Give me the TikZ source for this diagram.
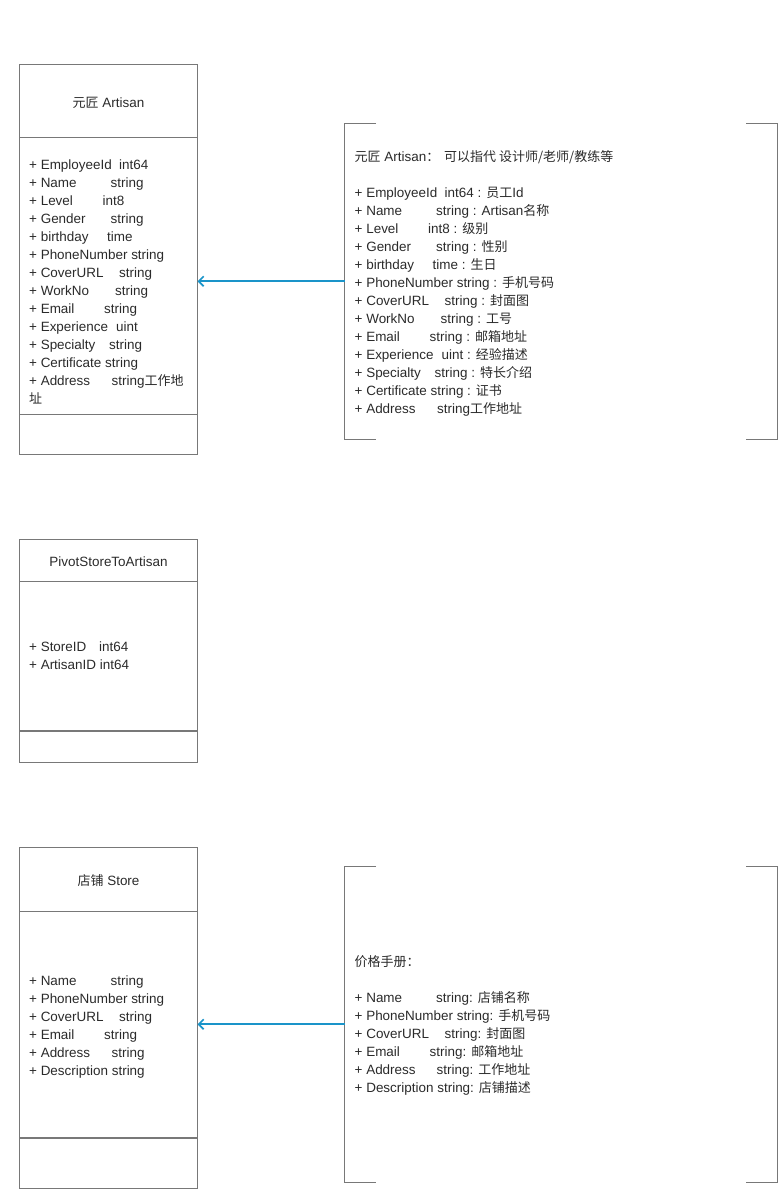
\documentclass[tikz,border=0pt]{standalone}
\usepackage{fontspec}
\setmainfont{Liberation Sans}[Scale=1.035]
\newfontfamily\cjk{Noto Sans CJK SC}
\usetikzlibrary{arrows.meta}
\definecolor{linegray}{HTML}{787878}
\definecolor{arrowblue}{HTML}{1A94C9}
\definecolor{txt}{HTML}{2A2A2A}
\newcommand\attr[2]{\makebox[#1][l]{#2}}
\begin{document}
\begin{tikzpicture}[x=1pt,y=-1pt,
  box/.style={draw=linegray, line width=1pt, anchor=north west, inner sep=0pt, outer sep=0pt, minimum width=178pt},
  notearea/.style={anchor=north west, inner sep=0pt, outer sep=0pt, minimum width=432.5pt, minimum height=315.5pt},
  sep/.style={draw=linegray, line width=1pt},
  thicksep/.style={draw=linegray, line width=2pt},
  bracket/.style={draw=linegray, line width=1pt},
  lbl/.style={anchor=base west, inner sep=0pt, yshift=-1pt, text=txt, font=\fontsize{13}{18}\selectfont},
  ttl/.style={anchor=base, inner sep=0pt, yshift=-1pt, text=txt, font=\fontsize{13}{18}\selectfont},
  link/.style={draw=arrowblue, line width=1.7pt, -{Straight Barb[length=5pt,width=10pt]}}
]
\useasboundingbox (0,0) rectangle (778,1189);

% ---------- Artisan class ----------
\node[box, minimum height=389.5pt] (artisan) at (19.5,64.5) {};
\draw[sep] (artisan.west |- 0,137.5) -- (artisan.east |- 0,137.5);
\draw[sep] (artisan.west |- 0,414.5) -- (artisan.east |- 0,414.5);
\node[ttl] (artT) at (108.5,106.5) {{\cjk 元匠} Artisan};
\node[lbl] (a1)  at (29,168.5) {\attr{90pt}{+ EmployeeId}int64};
\node[lbl] (a2)  at (29,186.5) {\attr{81.5pt}{+ Name}string};
\node[lbl] (a3)  at (29,204.5) {\attr{73.5pt}{+ Level}int8};
\node[lbl] (a4)  at (29,222.5) {\attr{81.5pt}{+ Gender}string};
\node[lbl] (a5)  at (29,240.5) {\attr{78pt}{+ birthday}time};
\node[lbl] (a6)  at (29,258.5) {+ PhoneNumber string};
\node[lbl] (a7)  at (29,276.5) {\attr{90pt}{+ CoverURL}string};
\node[lbl] (a8)  at (29,294.5) {\attr{86pt}{+ WorkNo}string};
\node[lbl] (a9)  at (29,312.5) {\attr{75pt}{+ Email}string};
\node[lbl] (a10) at (29,330.5) {\attr{87pt}{+ Experience}uint};
\node[lbl] (a11) at (29,348.5) {\attr{80pt}{+ Specialty}string};
\node[lbl] (a12) at (29,366.5) {+ Certificate string};
\node[lbl] (a13) at (29,384.5) {\attr{82.5pt}{+ Address}string{\cjk 工作地}};
\node[lbl] (a14) at (29,402.5) {{\cjk 址}};

% ---------- Artisan note ----------
\node[notearea] (note1) at (344.5,123.5) {};
\draw[bracket] ([xshift=31.5pt]note1.north west) -- (note1.north west) -- (note1.south west) -- ([xshift=31.5pt]note1.south west);
\draw[bracket] ([xshift=-31pt]note1.north east) -- (note1.north east) -- (note1.south east) -- ([xshift=-31pt]note1.south east);
\node[lbl] (n0)  at (354.5,160.5) {\attr{89.5pt}{{\cjk 元匠} Artisan{\cjk ：}}{\cjk 可以指代 设计师/老师/教练等}};
\node[lbl] (n1)  at (354.5,196.5) {\attr{90pt}{+ EmployeeId}int64 : {\cjk 员工}Id};
\node[lbl] (n2)  at (354.5,214.5) {\attr{81.5pt}{+ Name}string : Artisan{\cjk 名称}};
\node[lbl] (n3)  at (354.5,232.5) {\attr{73.5pt}{+ Level}int8 : {\cjk 级别}};
\node[lbl] (n4)  at (354.5,250.5) {\attr{81.5pt}{+ Gender}string : {\cjk 性别}};
\node[lbl] (n5)  at (354.5,268.5) {\attr{78pt}{+ birthday}time : {\cjk 生日}};
\node[lbl] (n6)  at (354.5,286.5) {+ PhoneNumber string : {\cjk 手机号码}};
\node[lbl] (n7)  at (354.5,304.5) {\attr{90pt}{+ CoverURL}string : {\cjk 封面图}};
\node[lbl] (n8)  at (354.5,322.5) {\attr{86pt}{+ WorkNo}string : {\cjk 工号}};
\node[lbl] (n9)  at (354.5,340.5) {\attr{75pt}{+ Email}string : {\cjk 邮箱地址}};
\node[lbl] (n10) at (354.5,358.5) {\attr{87pt}{+ Experience}uint : {\cjk 经验描述}};
\node[lbl] (n11) at (354.5,376.5) {\attr{80pt}{+ Specialty}string : {\cjk 特长介绍}};
\node[lbl] (n12) at (354.5,394.5) {+ Certificate string : {\cjk 证书}};
\node[lbl] (n13) at (354.5,412.5) {\attr{82.5pt}{+ Address}string{\cjk 工作地址}};

\draw[link] (note1.west) -- (note1.west -| artisan.east);

% ---------- Pivot class ----------
\node[box, minimum height=222.5pt] (pivot) at (19.5,539.5) {};
\draw[sep] (pivot.west |- 0,581.5) -- (pivot.east |- 0,581.5);
\draw[thicksep] (pivot.west |- 0,730.5) -- (pivot.east |- 0,730.5);
\node[ttl] (pivT) at (108.5,565.5) {PivotStoreToArtisan};
\node[lbl] (p1) at (29,650.5) {\attr{70pt}{+ StoreID}int64};
\node[lbl] (p2) at (29,668.5) {+ ArtisanID int64};

% ---------- Store class ----------
\node[box, minimum height=340.5pt] (store) at (19.5,847.5) {};
\draw[sep] (store.west |- 0,911.5) -- (store.east |- 0,911.5);
\draw[thicksep] (store.west |- 0,1137.5) -- (store.east |- 0,1137.5);
\node[ttl] (stT) at (108.5,884.5) {{\cjk 店铺} Store};
\node[lbl] (s1) at (29,984.5)  {\attr{81.5pt}{+ Name}string};
\node[lbl] (s2) at (29,1002.5) {+ PhoneNumber string};
\node[lbl] (s3) at (29,1020.5) {\attr{90pt}{+ CoverURL}string};
\node[lbl] (s4) at (29,1038.5) {\attr{75pt}{+ Email}string};
\node[lbl] (s5) at (29,1056.5) {\attr{82.5pt}{+ Address}string};
\node[lbl] (s6) at (29,1074.5) {+ Description string};

% ---------- Store note ----------
\node[notearea] (note2) at (344.5,866.5) {};
\draw[bracket] ([xshift=31.5pt]note2.north west) -- (note2.north west) -- (note2.south west) -- ([xshift=31.5pt]note2.south west);
\draw[bracket] ([xshift=-31pt]note2.north east) -- (note2.north east) -- (note2.south east) -- ([xshift=-31pt]note2.south east);
\node[lbl] (m0) at (354.5,965.5)  {{\cjk 价格手册：}};
\node[lbl] (m1) at (354.5,1001.5) {\attr{81.5pt}{+ Name}string: {\cjk 店铺名称}};
\node[lbl] (m2) at (354.5,1019.5) {+ PhoneNumber string: {\cjk 手机号码}};
\node[lbl] (m3) at (354.5,1037.5) {\attr{90pt}{+ CoverURL}string: {\cjk 封面图}};
\node[lbl] (m4) at (354.5,1055.5) {\attr{75pt}{+ Email}string: {\cjk 邮箱地址}};
\node[lbl] (m5) at (354.5,1073.5) {\attr{82pt}{+ Address}string: {\cjk 工作地址}};
\node[lbl] (m6) at (354.5,1091.5) {+ Description string: {\cjk 店铺描述}};

\draw[link] (note2.west) -- (note2.west -| store.east);
\end{tikzpicture}
\end{document}
